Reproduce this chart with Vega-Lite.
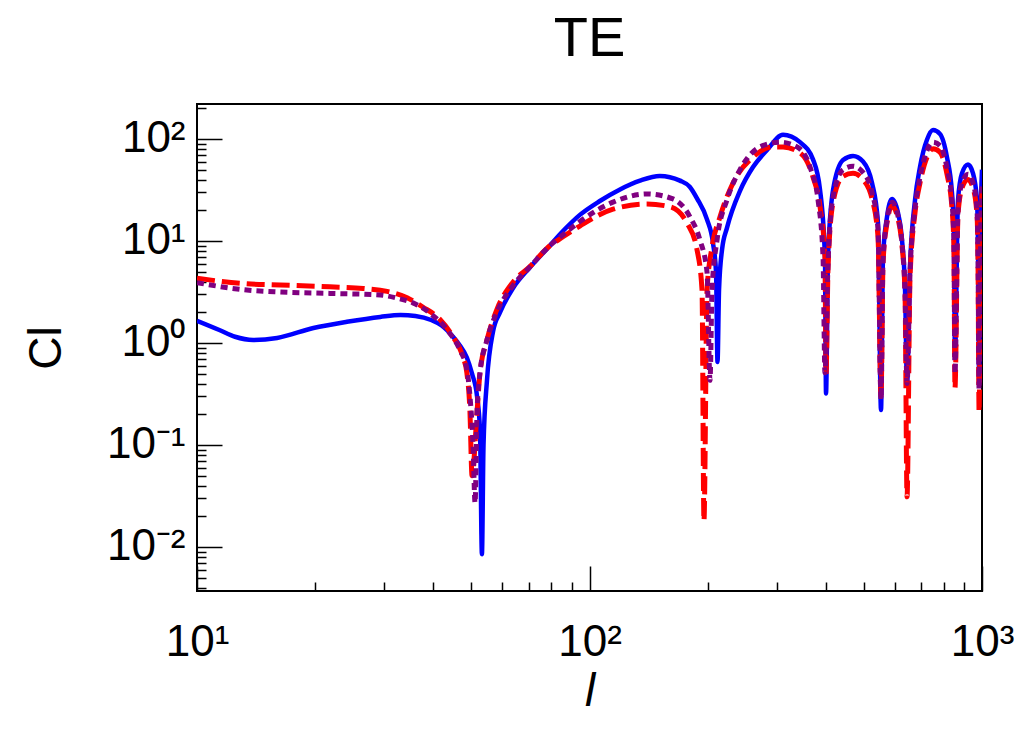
{
"$schema": "https://vega.github.io/schema/vega-lite/v6.json",
"width": 785, "height": 487,
"autosize": {"type": "none"},
"padding": {"left": 197, "top": 104, "right": 52, "bottom": 142},
"background": "white",
"title": {"text": "TE", "fontSize": 56, "font": "Liberation Sans", "fontWeight": "normal", "offset": 36, "anchor": "middle", "color": "black"},
"config": {"view": {"stroke": "black", "strokeWidth": 2}, "axis": {"grid": false, "domain": false, "labelFont": "Liberation Sans", "titleFont": "Liberation Sans", "labelColor": "black", "titleColor": "black", "tickColor": "black", "tickWidth": 1.5, "labelFlush": false, "labelOverlap": false, "labelBound": false, "titleFontWeight": "normal"}},
"data": {"values": [
{"s":"b","l":10,"cl":1.65},{"s":"b","l":11.4,"cl":1.34},{"s":"b","l":12.5,"cl":1.15},{"s":"b","l":13.9,"cl":1.07},{"s":"b","l":16,"cl":1.12},{"s":"b","l":19.8,"cl":1.4},{"s":"b","l":24.1,"cl":1.61},{"s":"b","l":29.3,"cl":1.8},{"s":"b","l":33,"cl":1.88},{"s":"b","l":36,"cl":1.84},{"s":"b","l":39.5,"cl":1.68},{"s":"b","l":42,"cl":1.48},{"s":"b","l":44.9,"cl":1.15},{"s":"b","l":46.7,"cl":0.95},{"s":"b","l":48.7,"cl":0.72},{"s":"b","l":50.2,"cl":0.5},{"s":"b","l":51.7,"cl":0.3},{"s":"b","l":52.6,"cl":0.14},{"s":"b","l":53.2,"cl":0.0085},{"s":"b","l":53.7,"cl":0.1},{"s":"b","l":54.8,"cl":0.43},{"s":"b","l":56.8,"cl":1.3},{"s":"b","l":59.2,"cl":2.0},{"s":"b","l":63.7,"cl":3.4},{"s":"b","l":70.5,"cl":5.5},{"s":"b","l":78,"cl":8.4},{"s":"b","l":85.6,"cl":12.5},{"s":"b","l":94.5,"cl":18},{"s":"b","l":106,"cl":24.5},{"s":"b","l":119.6,"cl":32},{"s":"b","l":134.5,"cl":39},{"s":"b","l":151,"cl":43.4},{"s":"b","l":170,"cl":39},{"s":"b","l":180,"cl":34},{"s":"b","l":188,"cl":26},{"s":"b","l":199.3,"cl":16.2},{"s":"b","l":206.4,"cl":9.5},{"s":"b","l":210.1,"cl":4.9},{"s":"b","l":211.9,"cl":0.65},{"s":"b","l":213.8,"cl":3.3},{"s":"b","l":217.6,"cl":8.2},{"s":"b","l":224.1,"cl":13.5},{"s":"b","l":241.8,"cl":31},{"s":"b","l":261,"cl":53},{"s":"b","l":283.4,"cl":78},{"s":"b","l":311.2,"cl":110},{"s":"b","l":343.8,"cl":93},{"s":"b","l":371,"cl":63},{"s":"b","l":386.7,"cl":31.6},{"s":"b","l":398,"cl":7},{"s":"b","l":400.5,"cl":0.32},{"s":"b","l":405.3,"cl":7},{"s":"b","l":417.4,"cl":31.6},{"s":"b","l":442.5,"cl":62},{"s":"b","l":469.3,"cl":68},{"s":"b","l":497.6,"cl":60},{"s":"b","l":524.6,"cl":37},{"s":"b","l":543.3,"cl":15},{"s":"b","l":553,"cl":0.22},{"s":"b","l":559.5,"cl":7},{"s":"b","l":572.8,"cl":17.2},{"s":"b","l":589.9,"cl":25.8},{"s":"b","l":611,"cl":18.8},{"s":"b","l":625.5,"cl":10.2},{"s":"b","l":636.7,"cl":3.3},{"s":"b","l":644.2,"cl":0.4},{"s":"b","l":655.7,"cl":5.6},{"s":"b","l":675.2,"cl":25.3},{"s":"b","l":695,"cl":53},{"s":"b","l":724.1,"cl":98},{"s":"b","l":750.2,"cl":122},{"s":"b","l":781.6,"cl":112},{"s":"b","l":814.4,"cl":66},{"s":"b","l":838.5,"cl":29.6},{"s":"b","l":848,"cl":12},{"s":"b","l":853.4,"cl":0.73},{"s":"b","l":868.6,"cl":25},{"s":"b","l":889.3,"cl":46},{"s":"b","l":921.2,"cl":56},{"s":"b","l":948.7,"cl":46},{"s":"b","l":971.2,"cl":25},{"s":"b","l":977,"cl":8.2},{"s":"b","l":983,"cl":0.5},{"s":"b","l":992,"cl":15},{"s":"b","l":1000,"cl":50},
{"s":"p","l":10,"cl":3.9},{"s":"p","l":13.4,"cl":3.3},{"s":"p","l":16.3,"cl":3.16},{"s":"p","l":21.8,"cl":3.06},{"s":"p","l":29.3,"cl":2.95},{"s":"p","l":32.3,"cl":2.75},{"s":"p","l":35.5,"cl":2.47},{"s":"p","l":39.2,"cl":1.96},{"s":"p","l":43.4,"cl":1.34},{"s":"p","l":46.7,"cl":0.86},{"s":"p","l":48.7,"cl":0.55},{"s":"p","l":49.6,"cl":0.3},{"s":"p","l":50.5,"cl":0.1},{"s":"p","l":51.1,"cl":0.027},{"s":"p","l":51.7,"cl":0.21},{"s":"p","l":52.6,"cl":0.51},{"s":"p","l":54.8,"cl":1.07},{"s":"p","l":58,"cl":1.98},{"s":"p","l":63.7,"cl":3.6},{"s":"p","l":70.5,"cl":5.56},{"s":"p","l":78,"cl":8.5},{"s":"p","l":85.6,"cl":11.5},{"s":"p","l":94.5,"cl":15.5},{"s":"p","l":114.8,"cl":24},{"s":"p","l":140.1,"cl":28.9},{"s":"p","l":163.2,"cl":25.8},{"s":"p","l":180.3,"cl":17.2},{"s":"p","l":191.2,"cl":10.2},{"s":"p","l":199.3,"cl":4.9},{"s":"p","l":202.8,"cl":0.43},{"s":"p","l":205.2,"cl":3.3},{"s":"p","l":211.3,"cl":10.2},{"s":"p","l":224.1,"cl":25.3},{"s":"p","l":241.8,"cl":50},{"s":"p","l":271.9,"cl":83.5},{"s":"p","l":305.8,"cl":93},{"s":"p","l":337.9,"cl":83.5},{"s":"p","l":364.6,"cl":53},{"s":"p","l":382.1,"cl":25.3},{"s":"p","l":393.5,"cl":7},{"s":"p","l":398,"cl":0.51},{"s":"p","l":405.3,"cl":6},{"s":"p","l":417.4,"cl":27},{"s":"p","l":442.5,"cl":50},{"s":"p","l":469.3,"cl":54},{"s":"p","l":497.6,"cl":47},{"s":"p","l":524.6,"cl":30},{"s":"p","l":543.3,"cl":13},{"s":"p","l":553,"cl":0.28},{"s":"p","l":559.5,"cl":6.5},{"s":"p","l":572.8,"cl":16},{"s":"p","l":589.9,"cl":24},{"s":"p","l":611,"cl":17.5},{"s":"p","l":625.5,"cl":9.5},{"s":"p","l":636.7,"cl":3.1},{"s":"p","l":644.2,"cl":0.4},{"s":"p","l":655.7,"cl":5},{"s":"p","l":675.2,"cl":21},{"s":"p","l":695,"cl":42},{"s":"p","l":724.1,"cl":77},{"s":"p","l":750.2,"cl":93},{"s":"p","l":781.6,"cl":86},{"s":"p","l":814.4,"cl":52},{"s":"p","l":838.5,"cl":24},{"s":"p","l":848,"cl":10},{"s":"p","l":853.4,"cl":0.5},{"s":"p","l":868.6,"cl":20},{"s":"p","l":889.3,"cl":37},{"s":"p","l":921.2,"cl":45},{"s":"p","l":948.7,"cl":37},{"s":"p","l":971.2,"cl":20},{"s":"p","l":977,"cl":6.5},{"s":"p","l":983,"cl":0.35},{"s":"p","l":992,"cl":11},{"s":"p","l":1000,"cl":35},
{"s":"r","l":10,"cl":4.3},{"s":"r","l":13.4,"cl":3.8},{"s":"r","l":16.3,"cl":3.7},{"s":"r","l":21.8,"cl":3.55},{"s":"r","l":26.5,"cl":3.42},{"s":"r","l":30.5,"cl":3.2},{"s":"r","l":34.3,"cl":2.78},{"s":"r","l":37.6,"cl":2.25},{"s":"r","l":41.6,"cl":1.7},{"s":"r","l":44.9,"cl":1.15},{"s":"r","l":47.6,"cl":0.73},{"s":"r","l":48.7,"cl":0.51},{"s":"r","l":49.6,"cl":0.21},{"s":"r","l":50.2,"cl":0.05},{"s":"r","l":51.7,"cl":0.21},{"s":"r","l":52.6,"cl":0.51},{"s":"r","l":54.8,"cl":1.07},{"s":"r","l":58,"cl":2.1},{"s":"r","l":63.7,"cl":3.9},{"s":"r","l":70.5,"cl":5.6},{"s":"r","l":78,"cl":8.5},{"s":"r","l":85.6,"cl":11},{"s":"r","l":94.5,"cl":14},{"s":"r","l":114.8,"cl":20.5},{"s":"r","l":140.1,"cl":23},{"s":"r","l":160.4,"cl":21.6},{"s":"r","l":177.2,"cl":15},{"s":"r","l":187.9,"cl":8.2},{"s":"r","l":193.5,"cl":3.3},{"s":"r","l":195.7,"cl":0.018},{"s":"r","l":199.3,"cl":3.3},{"s":"r","l":205.2,"cl":8.7},{"s":"r","l":215,"cl":17.2},{"s":"r","l":232.1,"cl":37},{"s":"r","l":261,"cl":66.5},{"s":"r","l":293.4,"cl":83.5},{"s":"r","l":311.2,"cl":83.5},{"s":"r","l":343.8,"cl":73},{"s":"r","l":371,"cl":42.4},{"s":"r","l":386.7,"cl":21.6},{"s":"r","l":398,"cl":7},{"s":"r","l":400.5,"cl":0.5},{"s":"r","l":405.3,"cl":5.5},{"s":"r","l":417.4,"cl":24},{"s":"r","l":442.5,"cl":43},{"s":"r","l":469.3,"cl":46},{"s":"r","l":497.6,"cl":40},{"s":"r","l":524.6,"cl":26},{"s":"r","l":543.3,"cl":11},{"s":"r","l":553,"cl":0.3},{"s":"r","l":559.5,"cl":6},{"s":"r","l":572.8,"cl":15},{"s":"r","l":589.9,"cl":22},{"s":"r","l":611,"cl":16.5},{"s":"r","l":625.5,"cl":9},{"s":"r","l":636.7,"cl":3},{"s":"r","l":644.2,"cl":0.031},{"s":"r","l":655.7,"cl":4.5},{"s":"r","l":675.2,"cl":19},{"s":"r","l":695,"cl":37},{"s":"r","l":724.1,"cl":66},{"s":"r","l":750.2,"cl":80},{"s":"r","l":781.6,"cl":74},{"s":"r","l":814.4,"cl":45},{"s":"r","l":838.5,"cl":21},{"s":"r","l":848,"cl":9},{"s":"r","l":853.4,"cl":0.36},{"s":"r","l":868.6,"cl":18},{"s":"r","l":889.3,"cl":33},{"s":"r","l":921.2,"cl":40},{"s":"r","l":948.7,"cl":33},{"s":"r","l":971.2,"cl":18},{"s":"r","l":977,"cl":6},{"s":"r","l":983,"cl":0.21},{"s":"r","l":992,"cl":9},{"s":"r","l":1000,"cl":30}
]},
"resolve": {"axis": {"x": "independent", "y": "independent"}},
"layer": [
{"transform": [{"filter": "datum.s == 'b'"}],
 "mark": {"type": "line", "color": "#0000ff", "strokeWidth": 4.5, "interpolate": "monotone", "clip": true},
 "encoding": {
  "x": {"field": "l", "type": "quantitative", "scale": {"type": "log", "domain": [10, 1000], "nice": false},
        "axis": {"orient": "bottom", "values": [10, 100, 1000], "tickSize": -25, "labelPadding": 89, "labelBaseline": "alphabetic", "labelFontSize": 44,
                 "labelExpr": "datum.value < 50 ? '10¹' : datum.value < 500 ? '10²' : '10³'",
                 "title": "l", "titleFontSize": 46, "titleFontStyle": "italic", "titleX": 392.5, "titleY": 114, "titleBaseline": "alphabetic", "titleAlign": "center"}},
  "y": {"field": "cl", "type": "quantitative", "scale": {"type": "log", "domain": [0.0037, 220], "nice": false},
        "axis": {"orient": "left", "values": [0.01, 0.1, 1, 10, 100], "tickSize": -25, "labelPadding": 37, "labelBaseline": "middle", "labelFontSize": 44,
                 "labelExpr": "datum.value < 0.05 ? '10⁻²' : datum.value < 0.5 ? '10⁻¹' : datum.value < 5 ? '10⁰' : datum.value < 50 ? '10¹' : '10²'",
                 "title": "Cl", "titleFontSize": 46, "titleX": -137, "titleY": 243.5, "titleBaseline": "alphabetic", "titleAlign": "center", "titleAngle": 270}}
 }},
{"transform": [{"filter": "datum.s == 'r'"}],
 "mark": {"type": "line", "color": "#ff0000", "strokeWidth": 5, "strokeDash": [18, 7], "interpolate": "monotone", "clip": true},
 "encoding": {
  "x": {"field": "l", "type": "quantitative", "scale": {"type": "log", "domain": [10, 1000], "nice": false},
        "axis": {"orient": "bottom", "values": [20, 30, 40, 50, 60, 70, 80, 90, 200, 300, 400, 500, 600, 700, 800, 900], "tickSize": -9, "labels": false, "title": null}},
  "y": {"field": "cl", "type": "quantitative", "scale": {"type": "log", "domain": [0.0037, 220], "nice": false},
        "axis": {"orient": "left", "values": [0.004, 0.005, 0.006, 0.007, 0.008, 0.009, 0.02, 0.03, 0.04, 0.05, 0.06, 0.07, 0.08, 0.09, 0.2, 0.3, 0.4, 0.5, 0.6, 0.7, 0.8, 0.9, 2, 3, 4, 5, 6, 7, 8, 9, 20, 30, 40, 50, 60, 70, 80, 90, 200], "tickSize": -9, "labels": false, "title": null}}
 }},
{"transform": [{"filter": "datum.s == 'p'"}],
 "mark": {"type": "line", "color": "#800080", "strokeWidth": 5, "strokeDash": [7, 5], "interpolate": "monotone", "clip": true},
 "encoding": {
  "x": {"field": "l", "type": "quantitative", "scale": {"type": "log", "domain": [10, 1000], "nice": false}, "axis": null},
  "y": {"field": "cl", "type": "quantitative", "scale": {"type": "log", "domain": [0.0037, 220], "nice": false}, "axis": null}
 }}
]
}
